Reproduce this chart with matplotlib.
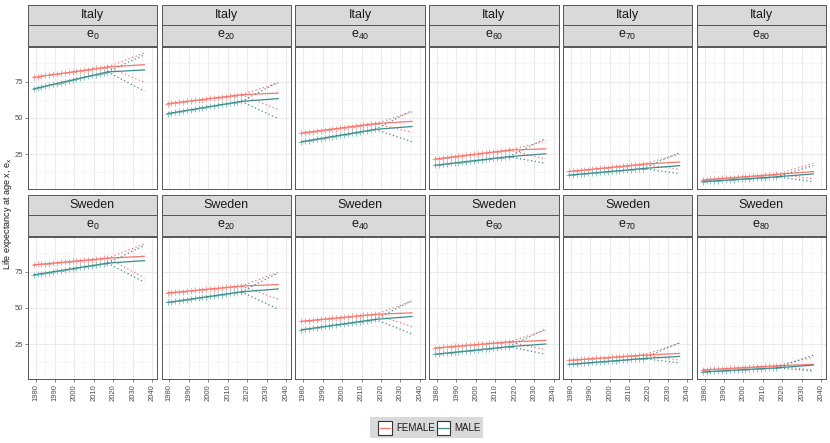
import numpy as np
import matplotlib.pyplot as plt
from matplotlib.patches import Rectangle
from matplotlib.lines import Line2D

plt.rcParams['font.family'] = ['Liberation Sans', 'DejaVu Sans']
plt.rcParams['mathtext.default'] = 'regular'

countries = ['Italy', 'Sweden']
ages = ['0', '20', '40', '60', '70', '80']
obs_years = list(range(1979, 2018, 2))
fit_years = [1979, 2017, 2036]

# observed life expectancy, every second year 1979-2017
obs = {
    ('Italy', 'F'): [
        [77.9, 78.2, 78.7, 79.2, 79.5, 79.9, 80.3, 80.6, 81.0, 81.4, 81.7, 82.1, 82.5, 82.6, 83.2, 83.6, 84.0, 84.3, 84.6, 85.0],
        [59.7, 60.0, 60.4, 60.7, 61.0, 61.4, 61.7, 62.0, 62.3, 62.6, 62.9, 63.3, 63.6, 63.8, 64.2, 64.6, 64.9, 65.2, 65.5, 65.9],
        [39.5, 39.8, 40.2, 40.5, 40.8, 41.2, 41.5, 41.9, 42.2, 42.6, 42.9, 43.3, 43.6, 43.8, 44.3, 44.6, 44.9, 45.3, 45.6, 46.0],
        [21.6, 21.9, 22.2, 22.5, 22.9, 23.2, 23.5, 23.8, 24.2, 24.5, 24.8, 25.1, 25.4, 25.6, 26.1, 26.4, 26.7, 27.0, 27.3, 27.7],
        [13.0, 13.2, 13.5, 13.8, 14.0, 14.3, 14.6, 14.8, 15.1, 15.4, 15.6, 15.9, 16.2, 16.3, 16.7, 17.0, 17.2, 17.5, 17.7, 18.0],
        [7.2, 7.4, 7.6, 7.8, 8.0, 8.2, 8.4, 8.6, 8.8, 9.0, 9.2, 9.4, 9.6, 9.6, 10.0, 10.2, 10.4, 10.6, 10.8, 11.0],
    ],
    ('Italy', 'M'): [
        [70.0, 70.5, 71.2, 71.9, 72.5, 73.0, 73.5, 74.0, 74.6, 75.3, 75.9, 76.6, 77.3, 77.8, 78.6, 79.2, 79.8, 80.4, 80.9, 81.6],
        [52.9, 53.3, 53.8, 54.2, 54.6, 55.1, 55.5, 55.9, 56.4, 56.8, 57.3, 57.8, 58.3, 58.7, 59.2, 59.7, 60.1, 60.5, 60.9, 61.3],
        [33.5, 33.9, 34.3, 34.7, 35.2, 35.6, 36.1, 36.5, 37.0, 37.5, 37.9, 38.4, 38.9, 39.3, 39.8, 40.3, 40.7, 41.1, 41.5, 42.0],
        [17.3, 17.6, 17.9, 18.2, 18.5, 18.8, 19.1, 19.4, 19.8, 20.1, 20.4, 20.7, 21.0, 21.3, 21.7, 22.0, 22.3, 22.6, 22.9, 23.2],
        [10.5, 10.7, 11.0, 11.2, 11.4, 11.7, 11.9, 12.2, 12.4, 12.6, 12.9, 13.1, 13.4, 13.5, 13.8, 14.1, 14.3, 14.6, 14.8, 15.0],
        [6.0, 6.2, 6.3, 6.5, 6.7, 6.9, 7.0, 7.2, 7.4, 7.6, 7.7, 7.9, 8.1, 8.2, 8.4, 8.6, 8.8, 8.9, 9.1, 9.3],
    ],
    ('Sweden', 'F'): [
        [79.6, 79.9, 80.1, 80.3, 80.5, 80.8, 81.1, 81.3, 81.6, 81.8, 82.0, 82.3, 82.5, 82.8, 83.0, 83.2, 83.5, 83.7, 84.0, 84.2],
        [60.2, 60.5, 60.7, 61.0, 61.2, 61.5, 61.7, 62.0, 62.2, 62.5, 62.7, 63.0, 63.2, 63.5, 63.7, 64.0, 64.2, 64.5, 64.7, 65.0],
        [40.7, 41.0, 41.2, 41.5, 41.7, 42.0, 42.2, 42.5, 42.7, 43.0, 43.2, 43.5, 43.7, 44.0, 44.2, 44.5, 44.7, 45.0, 45.2, 45.5],
        [22.3, 22.5, 22.7, 23.0, 23.2, 23.4, 23.6, 23.8, 24.1, 24.3, 24.5, 24.7, 24.9, 25.2, 25.4, 25.6, 25.8, 26.0, 26.3, 26.5],
        [13.8, 14.0, 14.2, 14.4, 14.6, 14.8, 14.9, 15.1, 15.3, 15.5, 15.7, 15.9, 16.1, 16.3, 16.5, 16.7, 16.8, 17.0, 17.2, 17.4],
        [7.2, 7.3, 7.5, 7.6, 7.8, 7.9, 8.1, 8.2, 8.4, 8.5, 8.7, 8.8, 9.0, 9.1, 9.3, 9.4, 9.6, 9.7, 9.9, 10.0],
    ],
    ('Sweden', 'M'): [
        [72.7, 73.1, 73.5, 73.9, 74.3, 74.8, 75.2, 75.6, 76.1, 76.5, 76.9, 77.4, 77.8, 78.2, 78.7, 79.1, 79.5, 80.0, 80.4, 80.8],
        [53.7, 54.1, 54.5, 54.8, 55.2, 55.6, 56.0, 56.4, 56.8, 57.2, 57.5, 57.9, 58.3, 58.7, 59.1, 59.5, 59.9, 60.2, 60.6, 61.0],
        [34.8, 35.2, 35.6, 35.9, 36.3, 36.7, 37.1, 37.5, 37.8, 38.2, 38.6, 39.0, 39.3, 39.7, 40.1, 40.5, 40.9, 41.2, 41.6, 42.0],
        [18.0, 18.3, 18.5, 18.8, 19.1, 19.4, 19.6, 19.9, 20.2, 20.5, 20.7, 21.0, 21.3, 21.6, 21.8, 22.1, 22.4, 22.7, 22.9, 23.2],
        [11.0, 11.2, 11.4, 11.6, 11.8, 12.1, 12.3, 12.5, 12.7, 12.9, 13.1, 13.3, 13.5, 13.7, 13.9, 14.2, 14.4, 14.6, 14.8, 15.0],
        [5.8, 5.9, 6.1, 6.2, 6.4, 6.5, 6.7, 6.8, 7.0, 7.1, 7.3, 7.4, 7.6, 7.7, 7.9, 8.0, 8.2, 8.3, 8.5, 8.6],
    ],
}

# fitted value at 2036 and forecast bounds at 2036
fit_end = {
    ('Italy', 'F'): [86.6, 67.0, 47.5, 28.6, 19.5, 12.9],
    ('Italy', 'M'): [83.0, 63.2, 44.0, 25.2, 17.0, 11.3],
    ('Sweden', 'F'): [85.5, 66.0, 46.5, 27.5, 18.5, 11.0],
    ('Sweden', 'M'): [82.5, 63.0, 44.0, 25.0, 16.5, 10.5],
}
upper = {
    ('Italy', 'F'): [94.7, 74.0, 54.0, 34.0, 25.0, 18.6],
    ('Italy', 'M'): [93.5, 74.5, 55.0, 35.8, 26.0, 17.0],
    ('Sweden', 'F'): [94.0, 74.5, 54.5, 34.5, 25.5, 16.0],
    ('Sweden', 'M'): [93.0, 74.0, 55.0, 35.5, 26.0, 17.5],
}
lower = {
    ('Italy', 'F'): [74.5, 55.6, 40.0, 21.6, 14.5, 8.0],
    ('Italy', 'M'): [68.4, 49.5, 33.5, 18.6, 11.5, 6.0],
    ('Sweden', 'F'): [70.7, 56.0, 37.0, 21.0, 14.0, 7.0],
    ('Sweden', 'M'): [67.7, 49.0, 32.0, 18.0, 12.0, 6.5],
}

line_col = {'F': '#F8766D', 'M': '#3E8C8C'}
pt_col = {'F': '#F9A49D', 'M': '#8CC4C4'}

W, H = 830, 443
fig = plt.figure(figsize=(W / 100, H / 100), dpi=100)

def box(x0, y0, x1, y1):
    return [x0 / W, 1 - y1 / H, (x1 - x0) / W, (y1 - y0) / H]

pw, gap = 129.5, 4.3
for r, country in enumerate(countries):
    oy = r * 190
    for c, age in enumerate(ages):
        x0 = 27.7 + c * (pw + gap)
        x1 = x0 + pw
        # strips
        for t0, t1, label in [(4.5, 24.8, country), (25.4, 46.2, 'e$_{' + age + '}$')]:
            rect = Rectangle((x0 / W, 1 - (t1 + oy) / H), pw / W, (t1 - t0) / H,
                             transform=fig.transFigure, facecolor='#D9D9D9',
                             edgecolor='#555555', linewidth=0.7)
            fig.patches.append(rect)
            fig.text((x0 + x1) / 2 / W, 1 - ((t0 + t1) / 2 + oy) / H, label,
                     ha='center', va='center', fontsize=9, color='#1A1A1A')
        ax = fig.add_axes(box(x0, 46.7 + oy, x1, 189.3 + oy))
        ax.set_xlim(1975.9, 2042.6)
        ax.set_ylim(0.7, 99)
        ax.set_xticks(range(1980, 2041, 10))
        ax.set_xticks(range(1985, 2040, 10), minor=True)
        ax.set_yticks([25, 50, 75])
        ax.set_yticks([12.5, 37.5, 62.5, 87.5], minor=True)
        ax.grid(which='major', color='#EBEBEB', linewidth=0.8)
        ax.grid(which='minor', color='#F3F3F3', linewidth=0.5)
        ax.set_axisbelow(True)
        for s in ax.spines.values():
            s.set_color('#555555')
            s.set_linewidth(0.7)
        ax.tick_params(which='minor', length=0)
        ax.tick_params(which='major', length=2, width=0.5, color='#555555',
                       labelsize=5.5, labelcolor='#4D4D4D', pad=1.5)
        if c > 0:
            ax.tick_params(axis='y', length=0, labelleft=False)
        if r == 0:
            ax.tick_params(axis='x', length=0, labelbottom=False)
        else:
            plt.setp(ax.get_xticklabels(), rotation=90)
        for sex in ['F', 'M']:
            key = (country, sex)
            o = obs[key][c]
            ax.plot(obs_years, o, linestyle='none', marker='+', markersize=4.5,
                    markeredgewidth=0.7, color=pt_col[sex], zorder=2)
            fit = [o[0], o[-1], fit_end[key][c]]
            ax.plot(fit_years, fit, color=line_col[sex], linewidth=0.9, zorder=3)
            ax.plot([2017, 2036], [o[-1], upper[key][c]], color=line_col[sex],
                    linestyle=(0, (1, 2)), linewidth=0.9, zorder=3)
            ax.plot([2017, 2036], [o[-1], lower[key][c]], color=line_col[sex],
                    linestyle=(0, (1, 2)), linewidth=0.9, zorder=3)

fig.text(8 / W, 1 - 214 / H, 'Life expectancy at age x, e$_x$', rotation=90,
         ha='center', va='center', fontsize=6.5, color='#1A1A1A')

# legend
fig.patches.append(Rectangle((370 / W, 1 - 438 / H), 113 / W, 21 / H,
                             transform=fig.transFigure, facecolor='#D9D9D9',
                             edgecolor='none'))
for kx, tx, label, sex in [(378.3, 396, 'FEMALE', 'F'), (436.7, 454.7, 'MALE', 'M')]:
    fig.patches.append(Rectangle((kx / W, 1 - 434.7 / H), 13.4 / W, 14 / H,
                                 transform=fig.transFigure, facecolor='white',
                                 edgecolor='#333333', linewidth=0.8))
    fig.lines.append(Line2D([(kx + 1.5) / W, (kx + 11.9) / W], [1 - 427.7 / H] * 2,
                            transform=fig.transFigure, color=line_col[sex], linewidth=0.9))
    fig.text(tx / W, 1 - 427.7 / H, label, ha='left', va='center', fontsize=7, color='#1A1A1A')

fig.savefig('out.png', dpi=100)
